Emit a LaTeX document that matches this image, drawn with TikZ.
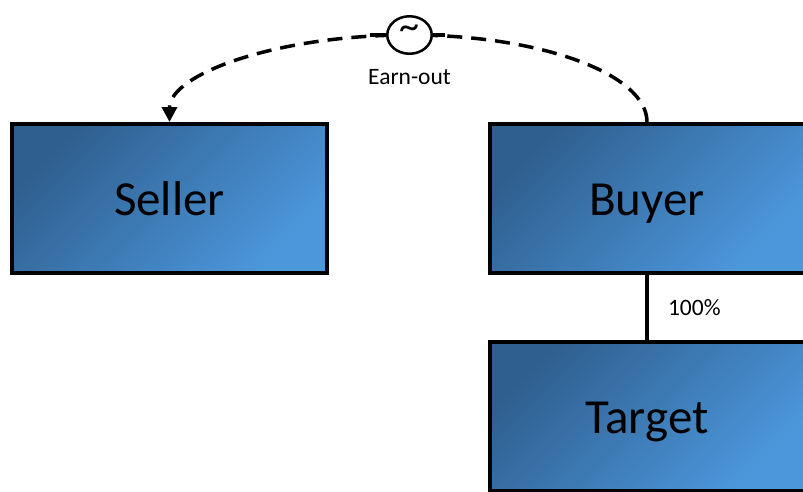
\documentclass[tikz,border=0pt]{standalone}
\usepackage{fontspec}
\setmainfont{Carlito}
\usetikzlibrary{positioning,arrows.meta,shapes.geometric}
\definecolor{boxdark}{HTML}{2F5F8F}
\definecolor{boxlight}{HTML}{4C97DC}

\begin{document}
\begin{tikzpicture}[x=1pt, y=1pt,
      party/.style = {draw, line width=4pt, minimum width=315pt, minimum height=149pt,
        top color=boxdark, bottom color=boxlight, shading angle=45,
        text height=35pt, text depth=2pt, font=\fontsize{49}{58}\selectfont},
      earnline/.style = {line width=3.5pt, dash pattern=on 15pt off 9pt,
        -{Triangle[length=15pt, width=15pt]}},
      lbl/.style = {font=\fontsize{23.5}{28}\selectfont, inner sep=3pt}]
    \useasboundingbox (0,0) rectangle (803,-491);
    \clip (0,0) rectangle (803,-491);
    \node[party] (seller) at (169.5,-198.5) {Seller};
    \node[party] (buyer) at (647,-198.5) {Buyer};
    \node[party, below=65pt of buyer] (target) {Target};
    \draw[line width=4pt] (buyer) -- node[lbl, right=16pt] (share) {100\%} (target);
    % earn-out arc over the circle
    \coordinate (top) at (409.5,-35);
    \draw[earnline] (buyer.north) .. controls +(0,48) and +(131.5,0) .. (top)
      .. controls +(-132,0) and +(0,48) .. (seller.north);
    \node[ellipse, draw, fill=white, line width=2.5pt, inner sep=0pt,
      minimum width=44.5pt, minimum height=37.5pt] (tilde) at (top)
      {\fontsize{40}{40}\selectfont\raisebox{5pt}{\textasciitilde}};
    \draw[line width=3.5pt] (tilde.west) -- +(-16,0) (tilde.east) -- +(12,0);
    \node[lbl, below=11pt of tilde] (earn) {Earn-out};
\end{tikzpicture}
\end{document}
